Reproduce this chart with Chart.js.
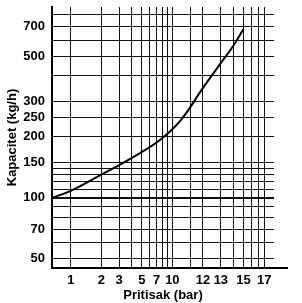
<!DOCTYPE html>
<html>
<head>
<meta charset="utf-8">
<script src="https://cdn.jsdelivr.net/npm/chart.js@4/dist/chart.umd.min.js"></script>
<style>
  html, body { margin: 0; padding: 0; background: #fff; }
  #wrap { width: 302px; height: 303px; position: relative; }
</style>
</head>
<body>
<div id="wrap"><canvas id="capChart"></canvas></div>
<script>
// curve (pressure axis value, capacity kg/h)
const pressure = [0.654, 1, 2, 3, 4.8, 7.6, 12, 20.4, 29.8, 40.3, 49.9];
const capacity = [100, 108, 130, 145, 166, 193, 240, 353, 460, 567, 678];

// x axis: grid lines and labelled ticks
const xGrid = [1, 2, 3, 4, 5, 6, 7, 8, 9, 10, 15, 20, 30, 40, 50, 60, 70, 80];
const xTickValues = [1, 2, 3, 5, 7, 10, 20, 30, 50, 80];
const xTickLabels = ['1', '2', '3', '5', '7', '10', '12', '13', '15', '17'];

// y axis: grid lines and labelled ticks
const yGrid = [50, 60, 70, 80, 90, 100, 110, 120, 130, 140, 150, 200, 250, 300, 400, 500, 600, 700, 800];
const yTickValues = [50, 70, 100, 150, 200, 250, 300, 500, 700];

const font = { family: '"Liberation Sans", Arial, sans-serif', size: 13, weight: 'bold' };

// bottom axis line runs a bit past the grid
const axisTail = {
    id: 'axisTail',
    afterDraw(chart) {
        const { ctx, chartArea } = chart;
        ctx.save();
        ctx.strokeStyle = '#000';
        ctx.lineWidth = 2;
        ctx.beginPath();
        ctx.moveTo(chartArea.right - 1, chartArea.bottom);
        ctx.lineTo(chartArea.right + 14, chartArea.bottom);
        ctx.stroke();
        ctx.restore();
    }
};

const ctx = document.getElementById('capChart').getContext('2d');
new Chart(ctx, {
    type: 'line',
    data: {
        datasets: [{
            data: pressure.map((p, i) => ({ x: p, y: capacity[i] })),
            borderColor: '#000',
            borderWidth: 2,
            pointRadius: 0,
            fill: false,
            tension: 0.4
        }]
    },
    options: {
        responsive: true,
        maintainAspectRatio: false,
        animation: false,
        layout: { padding: { left: 0, top: 7, right: 28, bottom: 0 } },
        plugins: { legend: { display: false }, tooltip: { enabled: false } },
        scales: {
            x: {
                type: 'logarithmic',
                min: 0.654,
                max: 100,
                afterBuildTicks: (scale) => { scale.ticks = xGrid.map(v => ({ value: v })); },
                afterFit: (scale) => {
                    scale.height = 35;
                    scale.paddingLeft = 0;
                    scale.paddingRight = 0;
                },
                grid: { color: '#111', lineWidth: 1, drawTicks: false },
                border: { color: '#000', width: 2 },
                ticks: {
                    autoSkip: false,
                    maxRotation: 0,
                    padding: 5,
                    color: '#000',
                    font: font,
                    callback: (value) => {
                        const i = xTickValues.indexOf(value);
                        return i >= 0 ? xTickLabels[i] : '';
                    }
                },
                title: {
                    display: true,
                    text: 'Pritisak (bar)',
                    color: '#000',
                    font: font,
                    padding: { top: 0, bottom: 0 }
                }
            },
            y: {
                type: 'logarithmic',
                min: 45,
                max: 873,
                afterBuildTicks: (scale) => { scale.ticks = yGrid.map(v => ({ value: v })); },
                afterFit: (scale) => {
                    scale.width = 52;
                    scale.paddingTop = 0;
                    scale.paddingBottom = 0;
                },
                grid: {
                    color: '#111',
                    lineWidth: (c) => (c.tick && c.tick.value === 100 ? 2 : 1),
                    drawTicks: false
                },
                border: { color: '#000', width: 2 },
                ticks: {
                    autoSkip: false,
                    padding: 7,
                    color: '#000',
                    font: font,
                    callback: (value) => (yTickValues.includes(value) ? String(value) : '')
                },
                title: {
                    display: true,
                    text: 'Kapacitet (kg/h)',
                    color: '#000',
                    font: font,
                    padding: { top: 5, bottom: 0 }
                }
            }
        }
    },
    plugins: [axisTail]
});
</script>
</body>
</html>
